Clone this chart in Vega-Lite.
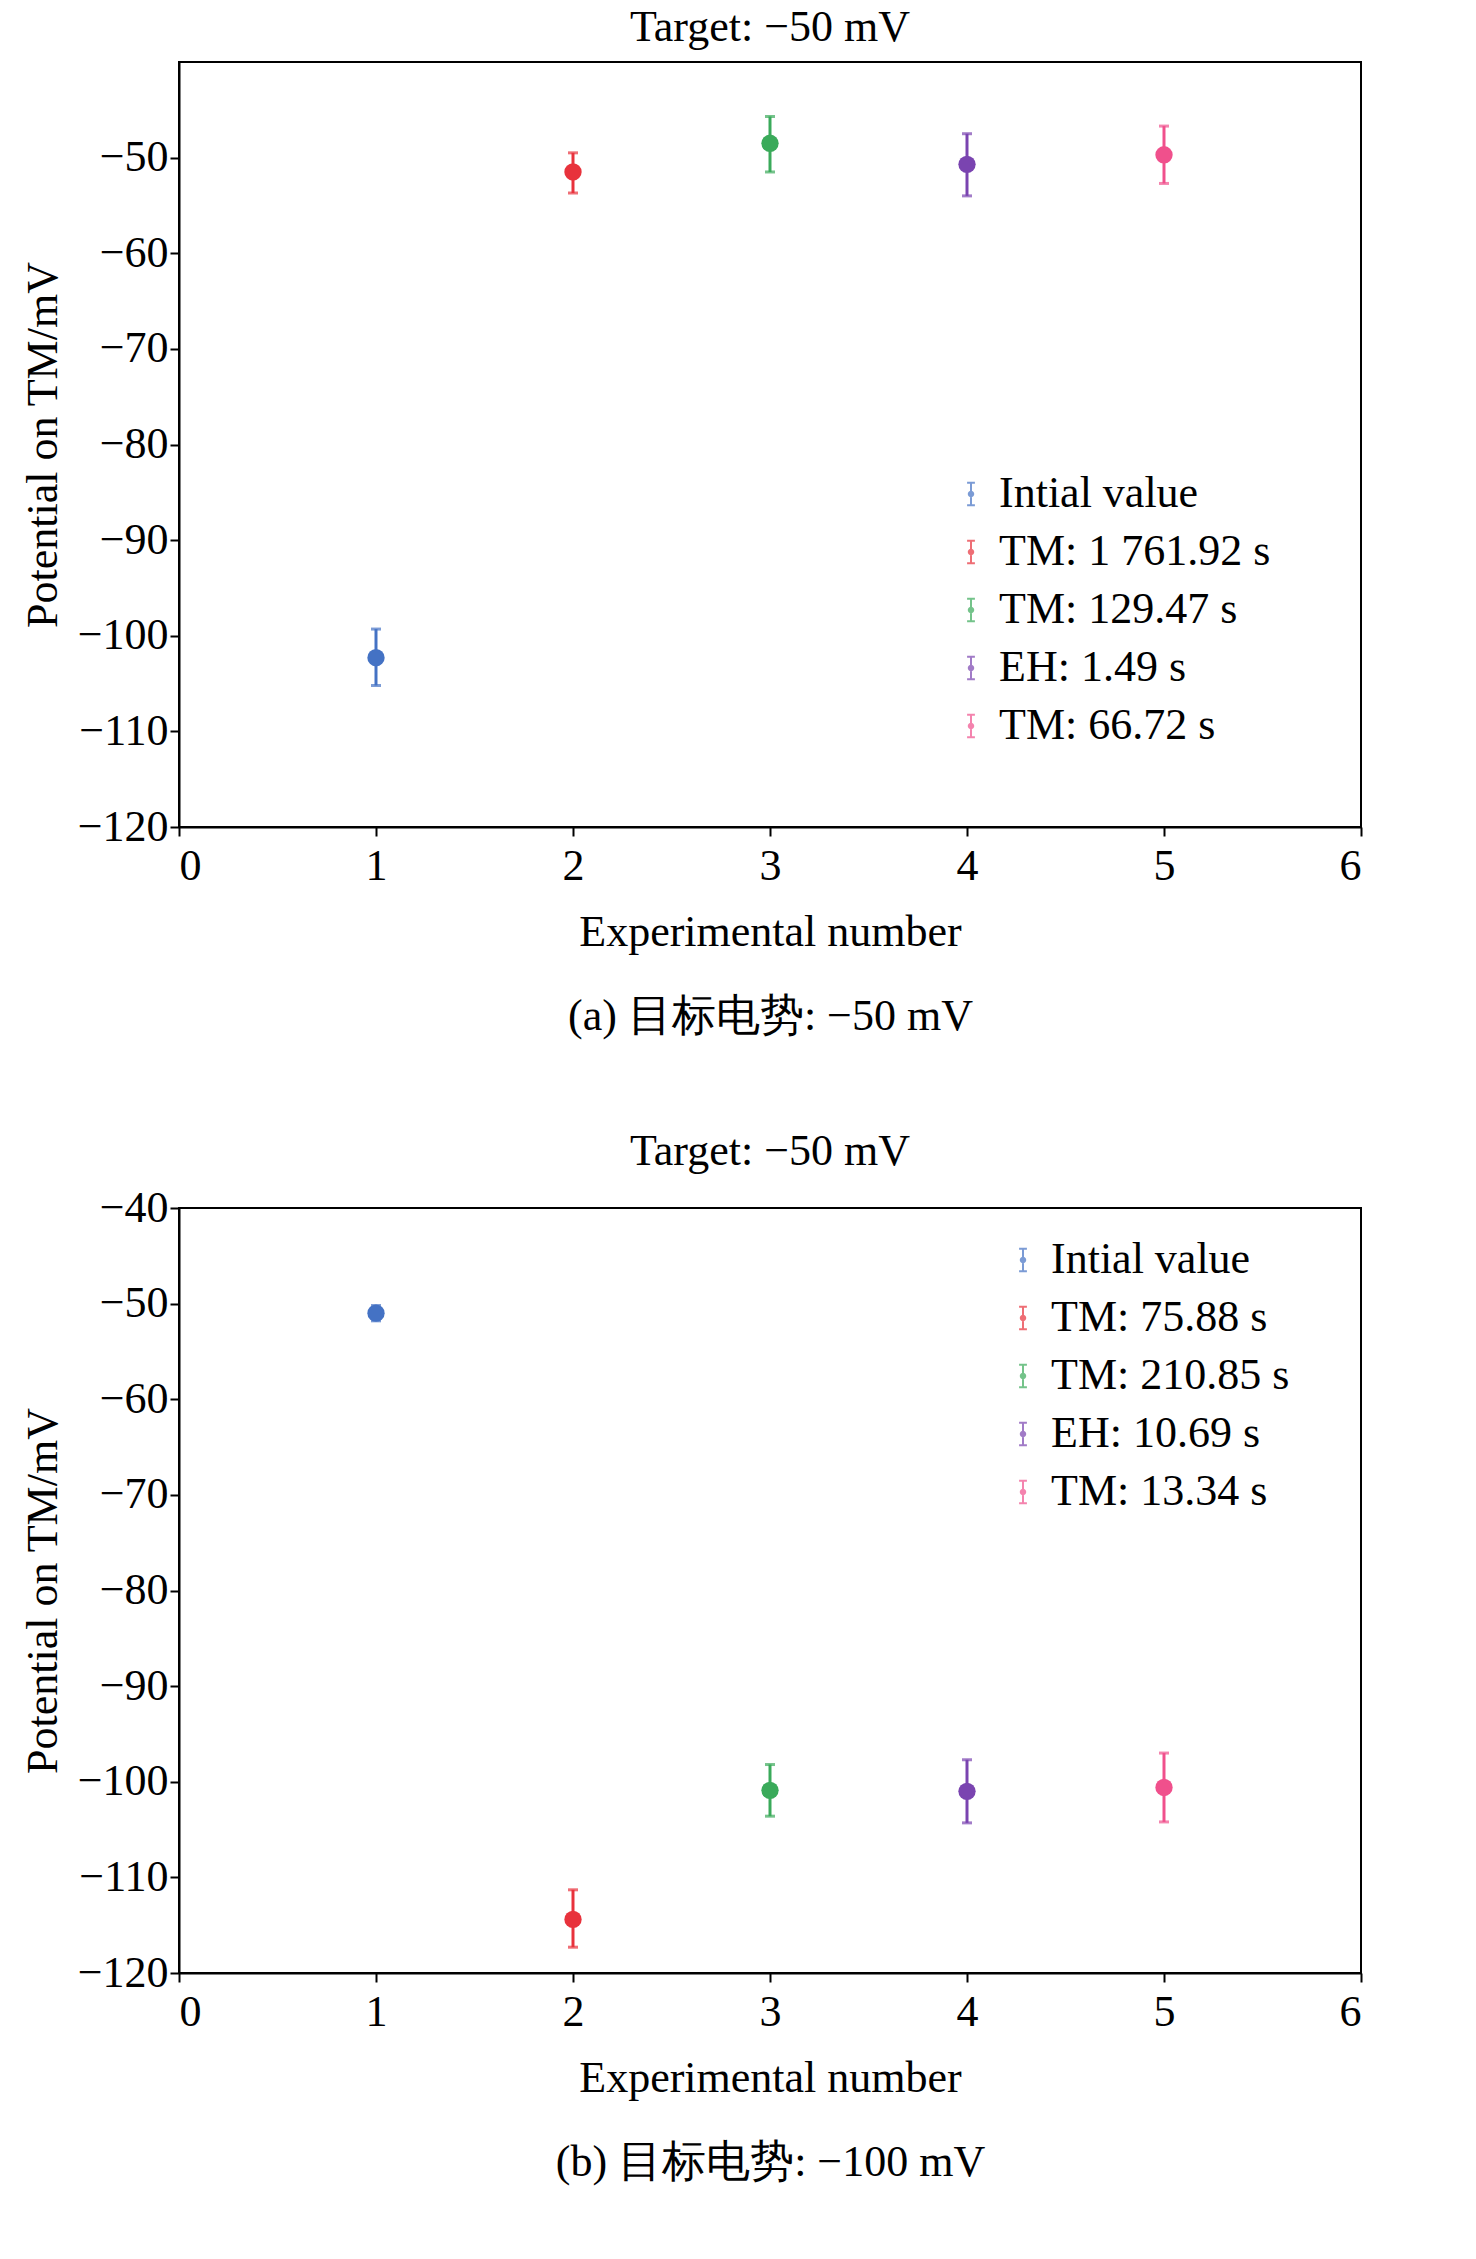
{
  "$schema": "https://vega.github.io/schema/vega-lite/v6.json",
  "background": "white",
  "padding": {"left": 20, "top": 5, "right": 30, "bottom": 5},
  "config": {
    "font": "Liberation Serif",
    "view": {"stroke": "black", "strokeWidth": 2},
    "axis": {"labelFont": "Liberation Serif", "titleFont": "Liberation Serif", "labelFontSize": 44, "titleFontSize": 44, "titleFontWeight": "normal", "labelColor": "black", "titleColor": "black", "domainColor": "black", "tickColor": "black", "grid": false, "domainWidth": 2, "tickWidth": 2, "tickSize": 9},
    "legend": {"labelFont": "Liberation Serif", "labelFontSize": 44, "labelColor": "black", "labelLimit": 0},
    "title": {"font": "Liberation Serif", "fontSize": 44, "fontWeight": "normal", "color": "black", "offset": 12}
  },
  "spacing": 90,
  "resolve": {"scale": {"color": "independent"}},
  "vconcat": [
    {
      "width": 1182,
      "height": 765,
      "title": "Target: −50 mV",
      "data": {"values": [
        {"n": 1, "s": "Intial value", "y": -102.3, "lo": -105.2, "hi": -99.3},
        {"n": 2, "s": "TM: 1 761.92 s", "y": -51.5, "lo": -53.7, "hi": -49.5},
        {"n": 3, "s": "TM: 129.47 s", "y": -48.5, "lo": -51.5, "hi": -45.7},
        {"n": 4, "s": "EH: 1.49 s", "y": -50.7, "lo": -54.0, "hi": -47.5},
        {"n": 5, "s": "TM: 66.72 s", "y": -49.7, "lo": -52.7, "hi": -46.7}
      ]},
      "encoding": {
        "x": {"field": "n", "type": "quantitative", "scale": {"domain": [0, 6]}, "axis": {"values": [0, 1, 2, 3, 4, 5, 6], "title": ["Experimental number", "(a) 目标电势: −50 mV"], "titleLineHeight": 84, "titlePadding": 22, "labelPadding": 8}},
        "color": {"field": "s", "type": "nominal", "scale": {"domain": ["Intial value", "TM: 1 761.92 s", "TM: 129.47 s", "EH: 1.49 s", "TM: 66.72 s"], "range": ["#4472c4", "#e8323c", "#3aaa5a", "#7a44b0", "#f0508c"]},
          "legend": {"title": null, "orient": "none", "legendX": 770, "legendY": 410, "symbolType": "M0,-1L0,1M-0.35,-1L0.35,-1M-0.35,1L0.35,1M0.2,0A0.2,0.2 0 1 1 -0.2,0A0.2,0.2 0 1 1 0.2,0", "symbolSize": 500, "symbolStrokeWidth": 2, "symbolFillColor": "transparent", "rowPadding": 14, "labelOffset": 6}}
      },
      "layer": [
        {"mark": {"type": "errorbar", "ticks": {"size": 10}, "thickness": 3}, "encoding": {"y": {"field": "lo", "type": "quantitative", "scale": {"domain": [-120, -45]}, "axis": {"values": [-120, -110, -100, -90, -80, -70, -60, -50], "title": "Potential on TM/mV", "labelExpr": "replace(datum.label, '-', '−')", "titlePadding": 12}}, "y2": {"field": "hi"}}},
        {"mark": {"type": "point", "filled": true, "size": 300, "opacity": 1}, "encoding": {"y": {"field": "y", "type": "quantitative"}}}
      ]
    },
    {
      "width": 1182,
      "height": 765,
      "title": "Target: −50 mV",
      "data": {"values": [
        {"n": 1, "s": "Intial value", "y": -51.0, "lo": -51.8, "hi": -50.2},
        {"n": 2, "s": "TM: 75.88 s", "y": -114.4, "lo": -117.3, "hi": -111.3},
        {"n": 3, "s": "TM: 210.85 s", "y": -100.9, "lo": -103.6, "hi": -98.2},
        {"n": 4, "s": "EH: 10.69 s", "y": -101.0, "lo": -104.3, "hi": -97.7},
        {"n": 5, "s": "TM: 13.34 s", "y": -100.6, "lo": -104.2, "hi": -97.0}
      ]},
      "encoding": {
        "x": {"field": "n", "type": "quantitative", "scale": {"domain": [0, 6]}, "axis": {"values": [0, 1, 2, 3, 4, 5, 6], "title": ["Experimental number", "(b) 目标电势: −100 mV"], "titleLineHeight": 84, "titlePadding": 22, "labelPadding": 8}},
        "color": {"field": "s", "type": "nominal", "scale": {"domain": ["Intial value", "TM: 75.88 s", "TM: 210.85 s", "EH: 10.69 s", "TM: 13.34 s"], "range": ["#4472c4", "#e8323c", "#3aaa5a", "#7a44b0", "#f0508c"]},
          "legend": {"title": null, "orient": "none", "legendX": 822, "legendY": 30, "symbolType": "M0,-1L0,1M-0.35,-1L0.35,-1M-0.35,1L0.35,1M0.2,0A0.2,0.2 0 1 1 -0.2,0A0.2,0.2 0 1 1 0.2,0", "symbolSize": 500, "symbolStrokeWidth": 2, "symbolFillColor": "transparent", "rowPadding": 14, "labelOffset": 6}}
      },
      "layer": [
        {"mark": {"type": "errorbar", "ticks": {"size": 10}, "thickness": 3}, "encoding": {"y": {"field": "lo", "type": "quantitative", "scale": {"domain": [-120, -40]}, "axis": {"values": [-120, -110, -100, -90, -80, -70, -60, -50, -40], "title": "Potential on TM/mV", "labelExpr": "replace(datum.label, '-', '−')", "titlePadding": 12}}, "y2": {"field": "hi"}}},
        {"mark": {"type": "point", "filled": true, "size": 300, "opacity": 1}, "encoding": {"y": {"field": "y", "type": "quantitative"}}}
      ]
    }
  ]
}
